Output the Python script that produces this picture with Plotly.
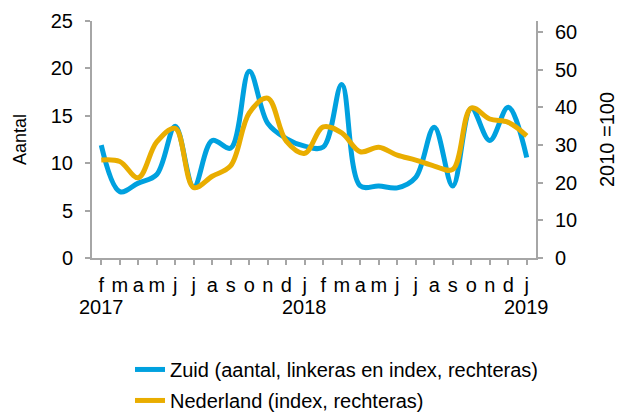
import plotly.graph_objects as go

months = ["f", "m", "a", "m", "j", "j", "a", "s", "o", "n", "d", "j",
          "f", "m", "a", "m", "j", "j", "a", "s", "o", "n", "d", "j"]
year_labels = ["2017", "2018", "2019"]
year_positions = [0, 11, 23]
categories = list(range(len(months)))

zuid = [11.9, 7.0, 7.9, 8.8, 13.9, 7.5, 12.4, 11.6, 19.7, 14.2, 12.6, 11.8,
        11.7, 18.3, 7.6, 7.6, 7.4, 8.5, 13.8, 7.6, 15.8, 12.4, 15.9, 10.6]
nederland = [26.0, 25.6, 21.3, 30.8, 34.4, 18.7, 21.7, 24.5, 38.5, 42.4, 31.0, 27.8,
             34.8, 33.2, 28.2, 29.4, 27.3, 26.0, 24.4, 23.5, 39.8, 36.9, 36.0, 32.4]

BLUE = "#00A1DF"
ORANGE = "#E9AD00"
GRID = "#A6A6A6"
FONT = "Liberation Sans, Arial, sans-serif"

fig = go.Figure()
fig.add_trace(go.Scatter(
    x=categories, y=nederland, name="Nederland (index, rechteras)",
    mode="lines", line=dict(color=ORANGE, width=5, shape="spline", smoothing=1.0),
    yaxis="y2", legendgroup="b", legendrank=2))
fig.add_trace(go.Scatter(
    x=categories, y=zuid, name="Zuid (aantal, linkeras en index, rechteras)",
    mode="lines", line=dict(color=BLUE, width=5, shape="spline", smoothing=1.0),
    legendgroup="a", legendrank=1))

for pos, lab in zip(year_positions, year_labels):
    fig.add_annotation(x=pos, y=-0.207, xref="x", yref="paper", text=lab,
                       showarrow=False, xanchor="center", yanchor="middle",
                       font=dict(size=20))

fig.update_layout(
    width=619, height=418,
    margin=dict(l=92, r=83, t=21, b=160, autoexpand=False),
    paper_bgcolor="white", plot_bgcolor="white",
    font=dict(family=FONT, size=20, color="#000000"),
    showlegend=True,
    legend=dict(x=0.0856, y=-0.388, xanchor="left", yanchor="top",
                orientation="v", tracegroupgap=2, font=dict(size=20),
                bgcolor="rgba(0,0,0,0)"),
    xaxis=dict(
        range=[-0.5, 23.5], tickmode="array", tickvals=categories, ticktext=months,
        ticks="outside", tickson="boundaries", ticklen=5, tickcolor=GRID, tickwidth=1.5,
        showline=True, linecolor=GRID, linewidth=2, showgrid=False, zeroline=False,
        tickangle=0, tickfont=dict(size=20), ticklabelstandoff=3,
    ),
    yaxis=dict(
        range=[0, 25], dtick=5, ticks="outside", ticklen=5, tickcolor=GRID, tickwidth=1.5,
        showline=True, linecolor=GRID, linewidth=2, showgrid=False, zeroline=False,
        title=dict(text="Aantal", standoff=19, font=dict(size=18)),
        ticklabelstandoff=8,
    ),
    yaxis2=dict(
        range=[0, 62.9], tickvals=[0, 10, 20, 30, 40, 50, 60], overlaying="y", side="right",
        ticks="outside", ticklen=5, tickcolor=GRID, tickwidth=1.5,
        showline=True, linecolor=GRID, linewidth=2, showgrid=False, zeroline=False,
        title=dict(text="2010 =100", standoff=24, font=dict(size=20)),
        ticklabelstandoff=8,
    ),
)

fig.write_html("out.html", config={"displayModeBar": False},
               post_script="document.body.style.margin='0';")
